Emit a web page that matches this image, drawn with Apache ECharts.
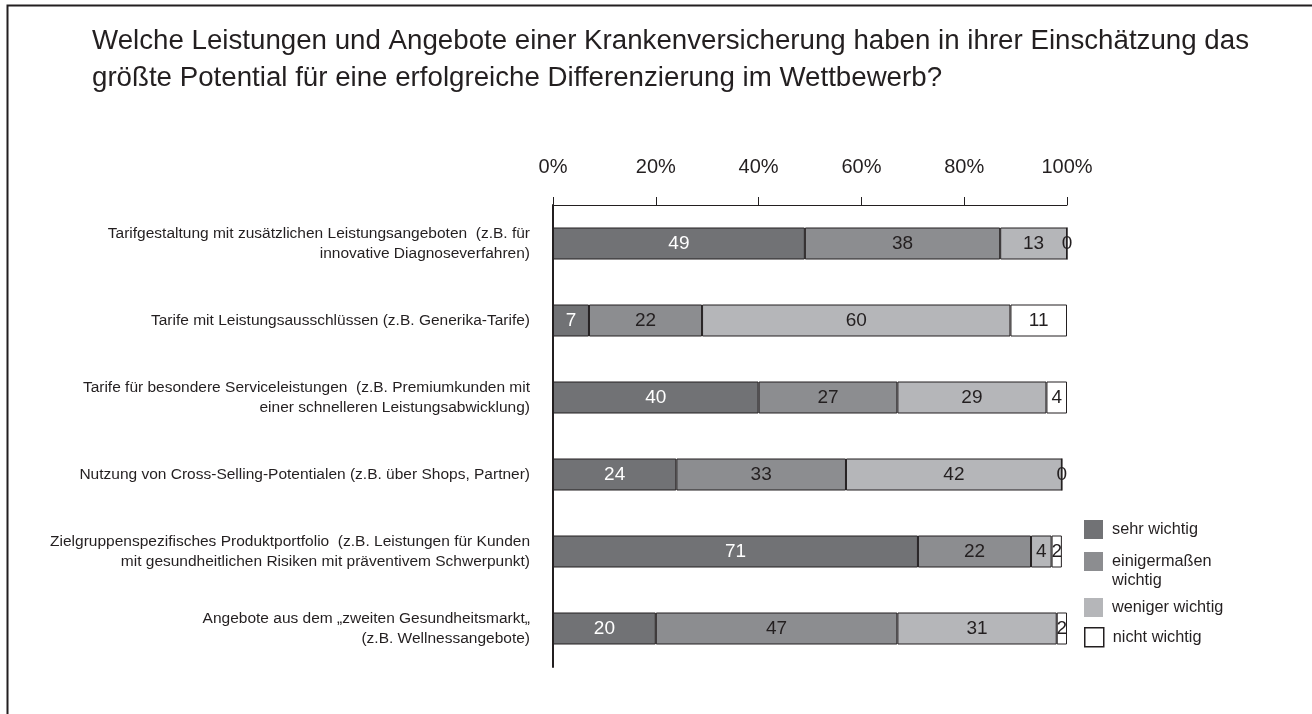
<!DOCTYPE html>
<html>
<head>
<meta charset="utf-8">
<script src="https://cdn.jsdelivr.net/npm/echarts@6/dist/echarts.min.js"></script>
<style>
html,body{margin:0;padding:0;background:#fff;}
#chart{width:1312px;height:714px;}
</style>
</head>
<body>
<div id="chart"></div>
<script>
const titleText = 'Welche Leistungen und Angebote einer Krankenversicherung haben in ihrer Einschätzung das\ngrößte Potential für eine erfolgreiche Differenzierung im Wettbewerb?';
const categories = [
  'Tarifgestaltung mit zusätzlichen Leistungsangeboten  (z.B. für\ninnovative Diagnoseverfahren)',
  'Tarife mit Leistungsausschlüssen (z.B. Generika-Tarife)',
  'Tarife für besondere Serviceleistungen  (z.B. Premiumkunden mit\neiner schnelleren Leistungsabwicklung)',
  'Nutzung von Cross-Selling-Potentialen (z.B. über Shops, Partner)',
  'Zielgruppenspezifisches Produktportfolio  (z.B. Leistungen für Kunden\nmit gesundheitlichen Risiken mit präventivem Schwerpunkt)',
  'Angebote aus dem „zweiten Gesundheitsmarkt„\n(z.B. Wellnessangebote)'
];
const seriesNames = ['sehr wichtig', 'einigermaßen wichtig', 'weniger wichtig', 'nicht wichtig'];
const sehrWichtig = [49, 7, 40, 24, 71, 20];
const einigermassenWichtig = [38, 22, 27, 33, 22, 47];
const wenigerWichtig = [13, 60, 29, 42, 4, 31];
const nichtWichtig = [0, 11, 4, 0, 2, 2];
const xTicks = [0, 20, 40, 60, 80, 100];

const INK = '#231f20';
const NARROW = '"Liberation Sans Narrow", "Arial Narrow", "Liberation Sans", Arial, sans-serif';
const SANS = '"Liberation Sans", Arial, sans-serif';
const colors = ['#717275', '#8c8d90', '#b5b6b9', '#ffffff'];
const labelColors = ['#ffffff', INK, INK, INK];
const values = [sehrWichtig, einigermassenWichtig, wenigerWichtig, nichtWichtig];

const chart = echarts.init(document.getElementById('chart'), null, {renderer: 'canvas'});

const series = seriesNames.map((name, i) => ({
  name: name,
  type: 'bar',
  stack: 'total',
  barWidth: 32,
  data: values[i],
  itemStyle: {color: colors[i], borderColor: INK, borderWidth: 1},
  label: {
    show: true,
    position: 'inside',
    color: labelColors[i],
    fontFamily: NARROW,
    fontSize: 19
  },
  emphasis: {disabled: true},
  animation: false
}));

const legendText = {fontFamily: SANS, fontSize: 16.3, color: INK, lineHeight: 19, padding: [0, 0, 0, 4]};
const legendBase = {
  orient: 'vertical',
  left: 1084,
  padding: 0,
  icon: 'rect',
  itemWidth: 19,
  itemHeight: 19,
  selectedMode: false,
  textStyle: legendText
};

const option = {
  backgroundColor: '#ffffff',
  animation: false,
  title: {
    text: titleText,
    left: 92,
    top: 23,
    padding: 0,
    textStyle: {fontFamily: NARROW, fontSize: 27.7, fontWeight: 'normal', color: INK, lineHeight: 37}
  },
  grid: {left: 553, right: 245, top: 205, height: 462, containLabel: false},
  xAxis: {
    type: 'value',
    position: 'top',
    min: xTicks[0],
    max: xTicks[xTicks.length - 1],
    interval: xTicks[1] - xTicks[0],
    axisLine: {show: true, lineStyle: {color: INK, width: 1}},
    axisTick: {show: true, length: 8, lineStyle: {color: INK, width: 1}},
    splitLine: {show: false},
    axisLabel: {formatter: '{value}%', fontFamily: NARROW, fontSize: 20, color: INK, margin: 28}
  },
  yAxis: {
    type: 'category',
    inverse: true,
    data: categories,
    axisLine: {show: true, lineStyle: {color: INK, width: 2}},
    axisTick: {show: false},
    axisLabel: {fontFamily: SANS, fontSize: 15.5, color: INK, lineHeight: 20, margin: 23, align: 'right'}
  },
  legend: [
    Object.assign({}, legendBase, {top: 520, data: [{name: seriesNames[0], itemStyle: {borderWidth: 0}}]}),
    Object.assign({}, legendBase, {
      top: 533, data: [{name: seriesNames[1], itemStyle: {borderWidth: 0}}],
      formatter: '\neinigermaßen\nwichtig'
    }),
    Object.assign({}, legendBase, {top: 598, data: [{name: seriesNames[2], itemStyle: {borderWidth: 0}}]}),
    Object.assign({}, legendBase, {top: 627, data: [{name: seriesNames[3], itemStyle: {borderColor: INK, borderWidth: 1.5}}]})
  ],
  graphic: [{
    type: 'polyline',
    silent: true,
    shape: {points: [[7.5, 714], [7.5, 5.5], [1312, 5.5]]},
    style: {stroke: INK, lineWidth: 2, fill: null}
  }],
  series: series
};
chart.setOption(option);
</script>
</body>
</html>
